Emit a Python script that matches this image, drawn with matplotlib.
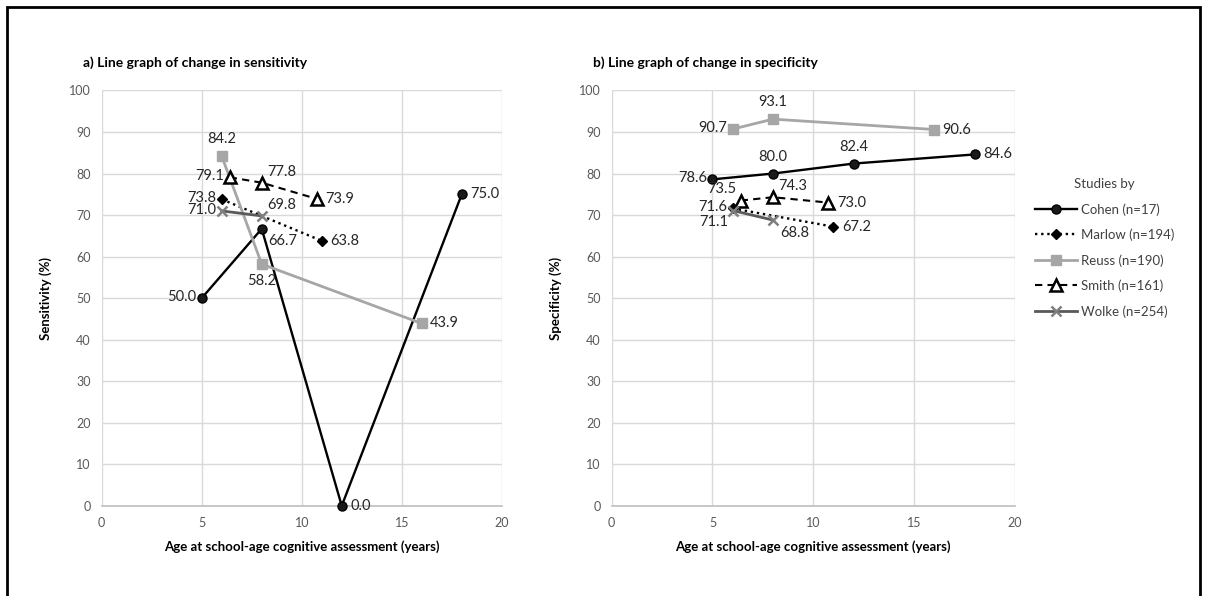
import matplotlib
matplotlib.use("Agg")
import matplotlib.pyplot as plt
from matplotlib.patches import Rectangle

plt.rcParams["font.family"] = ["Lato", "DejaVu Sans"]

# Study series: assessment ages (years) and percentages
cohen_age = [5, 8, 12, 18]
cohen_sens = [50.0, 66.7, 0.0, 75.0]
cohen_spec = [78.6, 80.0, 82.4, 84.6]

marlow_age = [6, 11]
marlow_sens = [73.8, 63.8]
marlow_spec = [71.6, 67.2]

reuss_age = [6, 8, 16]
reuss_sens = [84.2, 58.2, 43.9]
reuss_spec = [90.7, 93.1, 90.6]

smith_age = [6.4, 8, 10.75]
smith_sens = [79.1, 77.8, 73.9]
smith_spec = [73.5, 74.3, 73.0]

wolke_age = [6, 8]
wolke_sens = [71.0, 69.8]
wolke_spec = [71.1, 68.8]

study_names = ["Cohen (n=17)", "Marlow (n=194)", "Reuss (n=190)",
               "Smith (n=161)", "Wolke (n=254)"]

x_ticks = [0, 5, 10, 15, 20]
y_ticks = [0, 10, 20, 30, 40, 50, 60, 70, 80, 90, 100]

styles = [
    dict(color="black", lw=1.7, ls="-", marker="o", ms=6.5, mfc="#1a1a1a", mec="black"),
    dict(color="black", lw=1.7, ls=(0, (1, 1.6)), marker="D", ms=5.5, mfc="black", mec="black"),
    dict(color="#A6A6A6", lw=2.0, ls="-", marker="s", ms=6.5, mfc="#A6A6A6", mec="#A6A6A6"),
    dict(color="black", lw=1.5, ls=(0, (3.5, 2.5)), marker="^", ms=8, mfc="white", mec="black", mew=1.8),
    dict(color="#595959", lw=2.0, ls="-", marker="x", ms=7, mfc="#7F7F7F", mec="#7F7F7F", mew=1.8),
]

# label placement codes per point: l=left, r=right, a=above, b=below, and diagonals
sens_place = [["l", "br", "r", "r"], ["l", "r"], ["a", "b", "r"], ["l", "ar", "r"], ["l", "ar"]]
spec_place = [["l", "a", "a", "r"], ["l", "r"], ["l", "a", "r"], ["al", "ar", "r"], ["bl", "br"]]

offsets = {
    "l": (-4, 1, "right", "center"),
    "r": (6, 0, "left", "center"),
    "a": (0, 7, "center", "bottom"),
    "b": (0, -7, "center", "top"),
    "br": (5, -4, "left", "top"),
    "ar": (4, 3, "left", "bottom"),
    "al": (-3, 3, "right", "bottom"),
    "bl": (-3, -3, "right", "top"),
}

fig = plt.figure(figsize=(12.05, 5.96), dpi=100)
ax1 = fig.add_axes([0.0844, 0.1513, 0.332, 0.6969])
ax2 = fig.add_axes([0.5076, 0.1513, 0.3347, 0.6969])

panels = [
    (ax1, [cohen_sens, marlow_sens, reuss_sens, smith_sens, wolke_sens], sens_place,
     "a) Line graph of change in sensitivity", "Sensitivity (%)"),
    (ax2, [cohen_spec, marlow_spec, reuss_spec, smith_spec, wolke_spec], spec_place,
     "b) Line graph of change in specificity", "Specificity (%)"),
]
ages = [cohen_age, marlow_age, reuss_age, smith_age, wolke_age]

for ax, series, places, title, ylabel in panels:
    handles = []
    for age, vals, st, name, pl in zip(ages, series, styles, study_names, places):
        h, = ax.plot(age, vals, label=name, clip_on=False, zorder=3, **st)
        handles.append(h)
        for xv, yv, code in zip(age, vals, pl):
            dx, dy, ha, va = offsets[code]
            ax.annotate(f"{yv:.1f}", (xv, yv), xytext=(dx, dy), textcoords="offset points",
                        ha=ha, va=va, fontsize=10.5, color="#262626", zorder=4)
    ax.set_xlim(0, 20)
    ax.set_ylim(0, 100)
    ax.set_xticks(x_ticks)
    ax.set_yticks(y_ticks)
    ax.grid(True, color="#D9D9D9", lw=1.0)
    ax.set_axisbelow(True)
    for s in ["top", "right", "left"]:
        ax.spines[s].set_visible(False)
    ax.spines["bottom"].set_color("#BFBFBF")
    ax.spines["bottom"].set_linewidth(1.2)
    ax.tick_params(length=0, labelsize=9, labelcolor="#595959", pad=8)
    ax.set_xlabel("Age at school-age cognitive assessment (years)", fontsize=9.5,
                  fontweight="bold", labelpad=8)
    ax.set_ylabel(ylabel, fontsize=9.5, fontweight="bold", labelpad=12)
    ax.text(-0.047, 1.066, title, transform=ax.transAxes, fontsize=10, fontweight="bold",
            ha="left", va="center")

leg = fig.legend(handles=handles, loc="upper left", bbox_to_anchor=(0.849, 0.721),
                 frameon=False, title="Studies by", fontsize=9.5, title_fontsize=9.5,
                 handlelength=3.2, handletextpad=0.3, labelspacing=0.98)
for t in leg.get_texts():
    t.set_color("#404040")
leg.get_title().set_color("#404040")

fig.patches.append(Rectangle((0.0055, -0.02), 0.9905, 1.008, transform=fig.transFigure,
                             fill=False, edgecolor="black", lw=2.0))

fig.savefig("out.png", dpi=100, facecolor="white")
